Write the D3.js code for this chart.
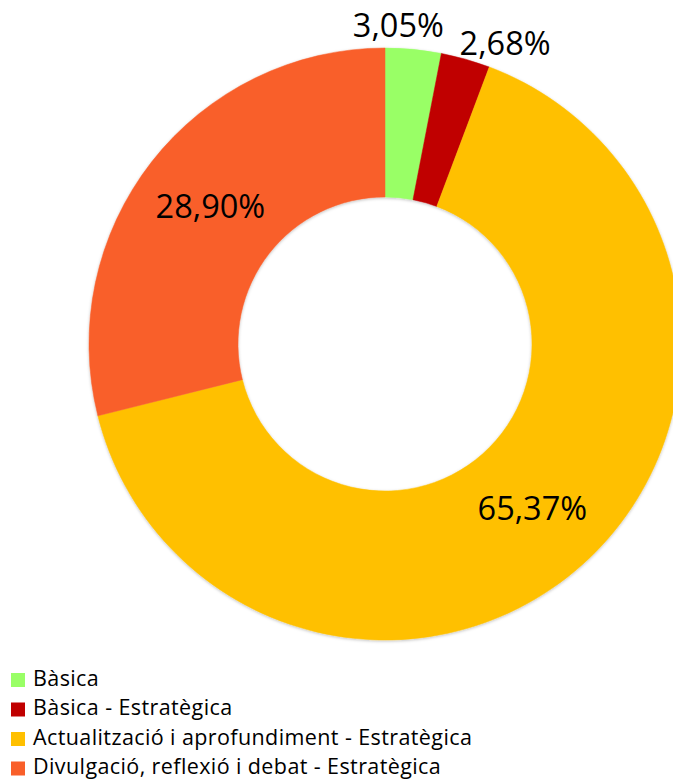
<!DOCTYPE html>
<html><head><meta charset="utf-8">
<script src="https://cdn.jsdelivr.net/npm/d3@7"></script>
<style>html,body{margin:0;padding:0;background:#fff;overflow:hidden}</style>
</head><body>
<svg id="c" width="673" height="780"></svg>
<script>
const categories = ["Bàsica", "Bàsica - Estratègica", "Actualització i aprofundiment - Estratègica", "Divulgació, reflexió i debat - Estratègica"];
const values = [3.05, 2.68, 65.37, 28.90];
const labels = ["3,05%", "2,68%", "65,37%", "28,90%"];
const colors = ["#99FF66", "#C00000", "#FFC000", "#F95F2A"];

const FONT = "'Open Sans', sans-serif";
const svg = d3.select("#c");
const defs = svg.append("defs");
const f = defs.append("filter").attr("id", "sh").attr("x", "-10%").attr("y", "-10%").attr("width", "120%").attr("height", "120%");
f.append("feDropShadow").attr("dx", 0).attr("dy", 1).attr("stdDeviation", 1.5)
  .attr("flood-color", "#000").attr("flood-opacity", 0.25);
const cx = 385, cy = 344, R = 296, r = 147;
const g = svg.append("g").attr("transform", `translate(${cx},${cy})`);
const pie = d3.pie().sort(null).value(d => d)(values);
const arc = d3.arc().innerRadius(r).outerRadius(R);
g.append("g").attr("filter", "url(#sh)")
  .selectAll("path").data(pie).join("path")
  .attr("d", arc).attr("fill", (d, i) => colors[i])
  .attr("stroke", (d, i) => colors[i]).attr("stroke-width", 0.5);

g.selectAll("text.lbl").data(pie).join("text")
  .attr("class", "lbl")
  .each(function(d, i) {
    const span = d.endAngle - d.startAngle;
    const mid = (d.startAngle + d.endAngle) / 2;
    const t = d3.select(this);
    if (span > 0.3) {
      const [x, y] = arc.centroid(d);
      t.attr("x", x).attr("y", y + 2).attr("text-anchor", "middle");
    } else {
      const ex = R * Math.sin(mid), ey = -R * Math.cos(mid);
      if (mid < 0.2) t.attr("x", ex - 15).attr("y", ey - 21).attr("text-anchor", "middle");
      else t.attr("x", ex - 6).attr("y", ey - 13).attr("text-anchor", "start");
    }
  })
  .attr("dominant-baseline", "middle")
  .attr("font-family", FONT).attr("font-size", 32.5).attr("fill", "#000")
  .text((d, i) => labels[i]);

const lg = svg.append("g");
categories.forEach((c, i) => {
  const y = 680 + i * 29.5;
  lg.append("rect").attr("x", 11).attr("y", y - 7).attr("width", 14).attr("height", 14).attr("fill", colors[i]);
  lg.append("text").attr("x", 33).attr("y", y).attr("dominant-baseline", "middle")
    .attr("font-family", FONT).attr("font-size", 21.5).attr("letter-spacing", 0.4)
    .attr("fill", "#000").text(c);
});
</script>
</body></html>
